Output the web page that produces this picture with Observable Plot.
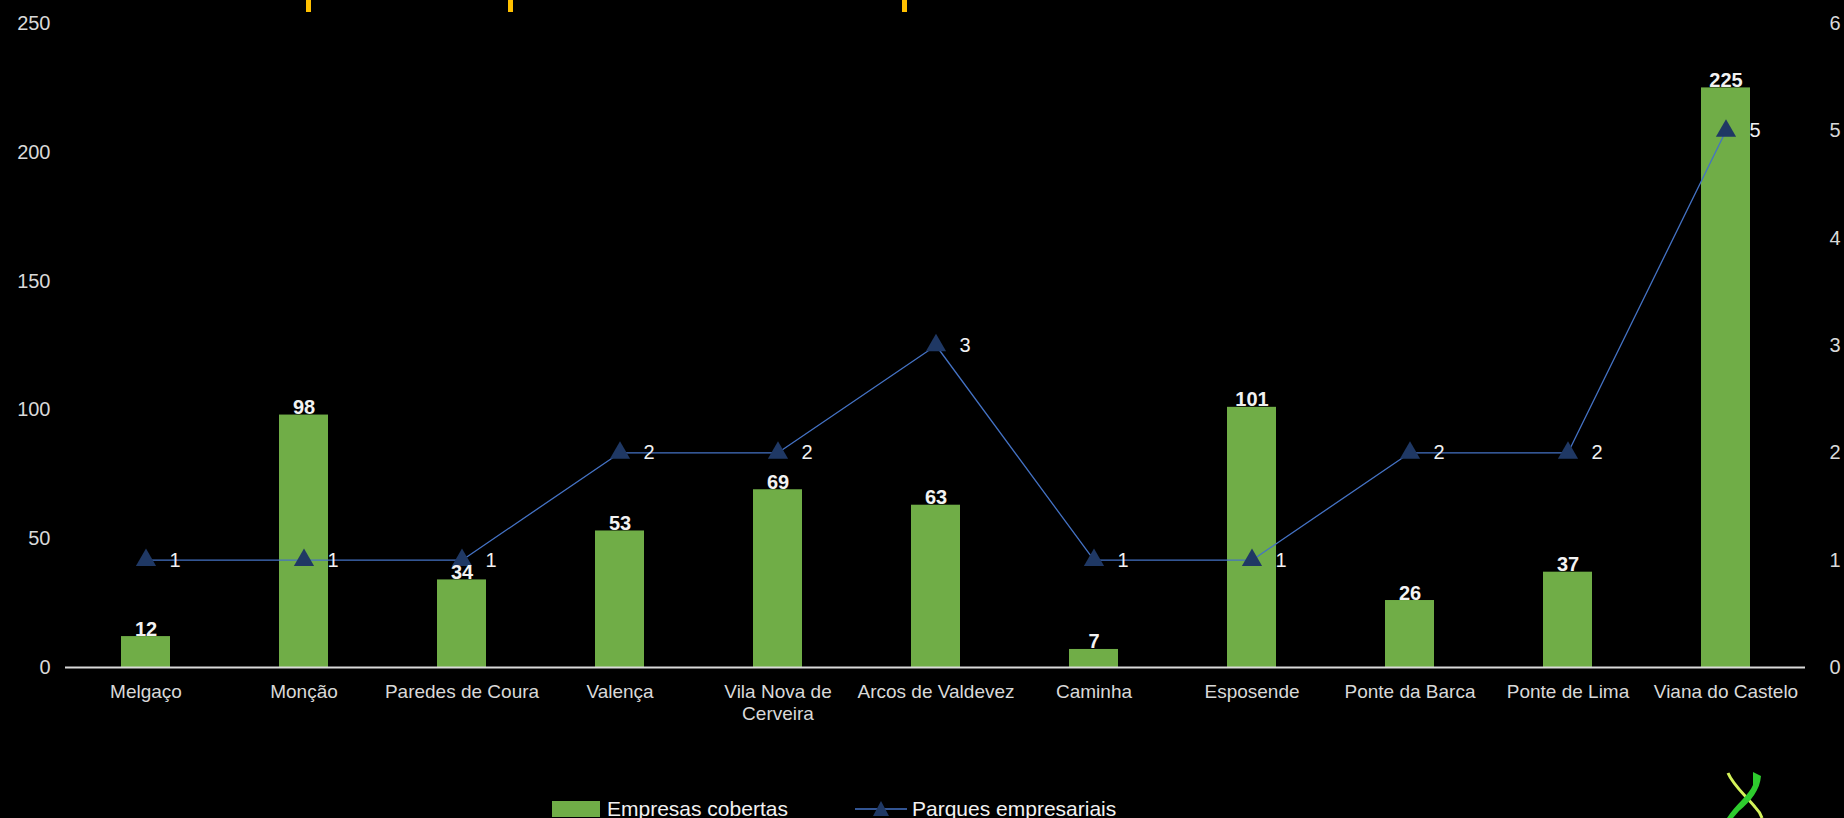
<!DOCTYPE html>
<html>
<head>
<meta charset="utf-8">
<script src="https://cdn.jsdelivr.net/npm/d3@7"></script>
<script src="https://cdn.jsdelivr.net/npm/@observablehq/plot@0.6"></script>
<style>
  html, body { margin: 0; padding: 0; background: #000; overflow: hidden; }
  body { width: 1844px; height: 818px; position: relative; font-family: "Liberation Sans Narrow", "Arial Narrow", "Liberation Sans", Arial, sans-serif; }
  #chart { position: absolute; left: 0; top: 0; }
  .tick-yellow { position: absolute; top: 0; width: 5px; height: 12px; background: #ffc000; }
  #legend { position: absolute; left: 0; top: 798px; width: 1844px; height: 20px; color: #f2f2f2; font-size: 21px; }
  .lg { position: absolute; top: 0; display: flex; align-items: center; height: 22px; }
  #logo { position: absolute; left: 1715px; top: 765px; }
</style>
</head>
<body>
<div id="chart"></div>
<div class="tick-yellow" style="left:306px"></div>
<div class="tick-yellow" style="left:508px"></div>
<div class="tick-yellow" style="left:902px"></div>
<div id="legend">
  <div class="lg" style="left:552px">
    <svg width="48" height="16" style="margin-right:7px"><rect width="48" height="16" fill="#70ad47"/></svg>
    <span>Empresas cobertas</span>
  </div>
  <div class="lg" style="left:855px">
    <svg width="52" height="18" style="margin-right:5px"><line x1="0" x2="52" y1="9" y2="9" stroke="#4472c4" stroke-width="1.5"/><path d="M26,1 L34,16 L18,16 Z" fill="#1f3864"/></svg>
    <span>Parques empresariais</span>
  </div>
</div>
<svg id="logo" width="60" height="53">
  <path d="M13,8 C18,20 30,30 40,42 C44,46 46,50 47,53" fill="none" stroke="#d4f25a" stroke-width="3"/>
  <path d="M38,7 L46,11 C45,25 36,36 24,46 L18,53 L12,53 C20,40 34,30 38,20 Z" fill="#2ecc2e"/>
</svg>
<script>
const municipios = ["Melgaço","Monção","Paredes de Coura","Valença","Vila Nova de Cerveira","Arcos de Valdevez","Caminha","Esposende","Ponte da Barca","Ponte de Lima","Viana do Castelo"];
const empresas = [12, 98, 34, 53, 69, 63, 7, 101, 26, 37, 225];
const parques = [1, 1, 1, 2, 2, 3, 1, 1, 2, 2, 5];
const leftTicks = [0, 50, 100, 150, 200, 250];
const rightTicks = [0, 1, 2, 3, 4, 5, 6];

const leftMax = 250, rightMax = 6;
const toLeft = v => v * leftMax / rightMax;

const data = municipios.map((m, i) => ({m, e: empresas[i], p: parques[i], pl: toLeft(parques[i])}));

const wrap = s => s === "Vila Nova de Cerveira" ? "Vila Nova de\nCerveira" : s;
const txt = "#d9d9d9";

const chart = Plot.plot({
  width: 1844,
  height: 790,
  marginLeft: 65,
  marginRight: 39,
  marginTop: 23,
  marginBottom: 123,
  style: {background: "#000", color: txt, fontFamily: "'Liberation Sans Narrow', 'Arial Narrow', 'Liberation Sans', Arial, sans-serif", fontSize: "19px"},
  x: {domain: municipios, paddingInner: 0.69, paddingOuter: 0.345, align: 0.5},
  y: {domain: [0, leftMax]},
  marks: [
    Plot.barY(data, {x: "m", y: "e", fill: "#70ad47"}),
    Plot.ruleY([0], {stroke: "#d9d9d9", strokeWidth: 2}),
    Plot.axisX({tickSize: 0, tickPadding: 14, tickFormat: wrap, fill: txt, fontSize: 19, label: null, lineHeight: 1.2}),
    Plot.axisY({ticks: leftTicks, tickSize: 0, tickPadding: 15, fill: txt, fontSize: 20, label: null}),
    Plot.axisY({anchor: "right", ticks: rightTicks.map(toLeft), tickFormat: d => Math.round(d * rightMax / leftMax), tickSize: 0, tickPadding: 24, textAnchor: "start", fill: txt, fontSize: 20, label: null}),
    Plot.line(data, {x: "m", y: "pl", stroke: "#4472c4", strokeWidth: 1.3}),
    Plot.dot(data, {x: "m", y: "pl", symbol: "triangle", r: 7.5, fill: "#1f3864", stroke: "none"}),
    Plot.text(data, {x: "m", y: "pl", text: d => String(d.p), dx: 29, fill: "#f2f2f2", fontSize: 20}),
    Plot.text(data, {x: "m", y: "e", text: d => String(d.e), lineAnchor: "bottom", dy: -1, fill: "#f2f2f2", fontSize: 20, fontWeight: "bold"})
  ]
});
document.getElementById("chart").appendChild(chart);
</script>
</body>
</html>
